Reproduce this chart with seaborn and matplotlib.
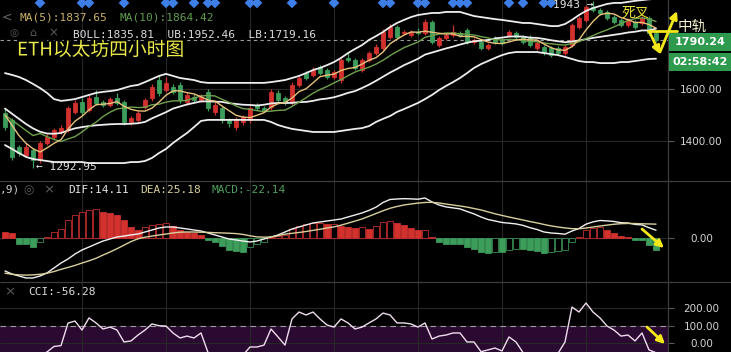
import numpy as np
import pandas as pd
import matplotlib
matplotlib.use("Agg")
import matplotlib.pyplot as plt
import matplotlib.patheffects as pe
from matplotlib.patches import Rectangle, FancyArrowPatch
from matplotlib.lines import Line2D
from matplotlib.transforms import blended_transform_factory
import seaborn as sns

# ---------------- data ----------------
OPEN = [1508,1481,1376,1344,1364,1325,1391,1414,1434,1442,1512,1551,1520,1570,1551,1539,1566,1551,1473,1481,
        1531,1566,1636,1597,1609,1617,1551,1570,1558,1590,1512,1527,1481,1453,1473,1481,1539,1527,1531,1586,
        1566,1551,1617,1663,1656,1687,1675,1648,1636,1722,1714,1675,1714,1741,1761,1803,1842,1819,1811,1823,
        1819,1862,1772,1800,1811,1819,1831,1784,1784,1761,1800,1792,1811,1819,1803,1803,1761,1765,1761,1761,
        1741,1772,1842,1870,1920,1908,1901,1881,1870,1850,1862,1858,1877,1819]
HIGH = [1525,1490,1385,1390,1372,1400,1425,1450,1462,1535,1560,1565,1578,1597,1560,1572,1586,1558,1498,1516,
        1566,1620,1656,1648,1620,1628,1590,1580,1582,1600,1550,1536,1490,1492,1500,1536,1548,1534,1600,1596,
        1574,1628,1652,1672,1686,1695,1684,1676,1722,1745,1722,1720,1750,1775,1834,1855,1850,1830,1832,1838,
        1872,1870,1808,1818,1850,1826,1838,1800,1790,1780,1808,1800,1832,1828,1810,1810,1788,1772,1768,1768,
        1772,1858,1885,1928,1943,1915,1908,1888,1877,1878,1870,1885,1884,1826]
LOW = [1440,1325,1340,1335,1293,1315,1382,1405,1425,1432,1503,1500,1510,1538,1530,1530,1538,1462,1460,1472,
       1522,1555,1575,1588,1580,1548,1540,1548,1550,1515,1500,1470,1455,1440,1462,1470,1518,1510,1520,1548,
       1538,1540,1608,1635,1648,1655,1640,1640,1625,1706,1675,1666,1705,1733,1752,1795,1795,1812,1805,1812,
       1810,1775,1765,1792,1804,1804,1776,1776,1754,1752,1776,1772,1804,1795,1776,1764,1754,1733,1725,1733,
       1733,1764,1835,1862,1900,1890,1870,1855,1843,1843,1835,1850,1812,1785]
CLOSE = [1453,1337,1352,1376,1325,1391,1414,1442,1449,1527,1547,1512,1566,1547,1539,1562,1547,1473,1488,1508,
         1558,1609,1586,1625,1590,1558,1578,1558,1570,1527,1539,1481,1469,1481,1492,1527,1527,1520,1590,1558,
         1547,1617,1644,1644,1675,1663,1648,1667,1714,1714,1683,1714,1741,1765,1823,1842,1803,1823,1823,1819,
         1862,1784,1800,1811,1823,1811,1784,1792,1761,1772,1784,1780,1823,1803,1784,1772,1780,1741,1733,1741,
         1765,1850,1877,1920,1908,1897,1877,1862,1850,1870,1842,1877,1819,1792]
MA5 = [1500,1460,1420,1390,1369,1356,1372,1390,1404,1445,1476,1495,1520,1540,1542,1545,1552,1534,1522,1516,
       1515,1527,1550,1577,1594,1594,1587,1582,1571,1558,1554,1535,1517,1499,1492,1490,1499,1509,1531,1544,
       1548,1566,1591,1602,1625,1649,1655,1659,1673,1681,1685,1698,1713,1723,1745,1777,1795,1811,1823,1822,
       1826,1822,1818,1815,1816,1806,1806,1804,1794,1784,1779,1778,1784,1792,1795,1792,1792,1776,1762,1753,
       1752,1766,1793,1831,1864,1890,1896,1893,1879,1871,1860,1860,1852,1838]
MA10 = [1500,1480,1460,1440,1420,1428,1416,1405,1397,1407,1416,1434,1455,1472,1494,1511,1524,1527,1531,1529,
        1530,1540,1542,1550,1555,1555,1557,1566,1574,1576,1574,1561,1550,1535,1525,1522,1517,1513,1515,1518,
        1519,1533,1550,1567,1585,1599,1611,1625,1638,1653,1667,1677,1686,1698,1713,1731,1747,1762,1773,1784,
        1802,1809,1815,1819,1819,1816,1814,1811,1805,1800,1793,1792,1794,1793,1790,1786,1785,1780,1777,1774,
        1772,1779,1785,1797,1809,1821,1831,1843,1855,1868,1875,1878,1873,1864]
BOLL_MID = [1525,1505,1485,1465,1448,1435,1428,1427,1430,1440,1448,1453,1457,1460,1462,1464,1465,1465,1466,1468,
            1473,1487,1499,1511,1525,1533,1541,1547,1553,1553,1552,1551,1546,1543,1540,1539,1537,1540,1545,1547,
            1547,1547,1550,1551,1555,1561,1564,1569,1577,1586,1593,1605,1618,1633,1649,1665,1679,1694,1706,1719,
            1735,1743,1751,1759,1766,1774,1781,1787,1789,1792,1798,1801,1805,1806,1805,1801,1800,1796,1791,1787,
            1783,1786,1790,1795,1800,1804,1808,1812,1816,1821,1824,1829,1829,1836]
BOLL_UB = [1663,1656,1648,1636,1621,1605,1586,1562,1555,1558,1562,1570,1578,1586,1590,1593,1597,1605,1613,1617,
           1628,1640,1652,1660,1652,1644,1640,1636,1628,1625,1625,1625,1625,1625,1625,1625,1625,1625,1628,1632,
           1636,1644,1652,1663,1675,1683,1694,1706,1722,1741,1757,1772,1792,1807,1823,1842,1858,1870,1881,1889,
           1893,1897,1897,1901,1901,1901,1893,1885,1881,1877,1873,1870,1866,1862,1858,1858,1854,1850,1846,1846,
           1854,1870,1889,1905,1916,1924,1932,1936,1936,1940,1944,1947,1950,1952]
BOLL_LB = [1383,1368,1352,1337,1329,1325,1321,1317,1317,1317,1317,1317,1313,1313,1313,1313,1313,1313,1317,1317,
           1321,1333,1352,1368,1391,1411,1430,1453,1477,1481,1481,1481,1481,1481,1481,1481,1481,1481,1473,1461,
           1453,1446,1442,1438,1434,1434,1434,1434,1438,1442,1446,1449,1457,1473,1485,1496,1512,1523,1535,1547,
           1562,1578,1597,1613,1628,1644,1663,1683,1698,1710,1722,1733,1741,1745,1745,1745,1745,1741,1737,1733,
           1726,1718,1710,1706,1706,1702,1702,1702,1706,1706,1710,1714,1718,1719]
DIF = [-60.0,-65.5,-69.1,-72.7,-72.7,-69.1,-63.6,-54.5,-45.5,-38.2,-29.1,-21.8,-16.4,-10.9,-5.5,-1.8,1.8,3.6,5.5,7.3,
       10.9,14.5,18.2,20.0,20.0,18.2,16.4,14.5,12.7,9.1,5.5,1.8,-1.8,-3.6,-5.5,-7.3,-5.5,-1.8,1.8,5.5,
       10.9,16.4,20.0,23.6,27.3,29.1,30.9,32.7,34.5,38.2,41.8,45.5,50.2,56.0,64.5,70.0,70.9,71.5,71.1,70.5,
       72.7,65.5,60.0,56.5,54.7,52.9,48.2,43.8,38.2,33.6,30.9,28.2,26.9,25.6,22.9,18.7,15.5,10.9,9.1,8.2,
       6.9,12.7,17.3,25.1,29.3,31.8,31.1,30.0,27.8,27.3,24.7,23.8,18.7,14.11]
DEA = [-64,-66,-67,-67.5,-67,-66,-64,-61,-57,-53.5,-49.8,-45.5,-41.5,-36.9,-31,-25.5,-19.5,-13,-6.5,-1.5,
       1.5,3.5,5.5,7.2,9.2,10.5,11.0,10.8,10.5,10.2,9.6,9.2,8.7,8.0,6.5,4.0,2.0,1.5,1.8,4.0,
       7.0,8.5,10.0,11.8,13.9,15.8,18.2,20.2,23.3,27.0,30.7,34.6,39.5,44.5,49.5,54.0,57.3,60.0,61.8,63.4,
       64.6,64.8,63.7,61.7,59.9,58.1,56.2,53.6,51.0,47.5,44.0,41.0,38.1,35.4,32.7,29.9,27.4,24.6,22.0,20.0,
       18.3,17.0,16.8,18.1,20.0,21.8,23.4,25.0,26.0,26.4,26.3,25.8,25.5,25.18]
MACD_HIST = [10.9,9.1,-10.4,-10.4,-16.4,-7.3,1.8,10.9,16.9,32.2,41.3,47.3,51.5,51.9,47.3,46.0,41.3,32.2,20.0,15.1,
             20.0,23.1,26.0,26.6,21.3,14.0,10.9,9.1,4.9,-4.2,-7.3,-15.1,-21.3,-23.7,-25.5,-16.4,-10.4,-7.3,1.8,3.1,
             4.9,16.9,21.3,24.9,27.3,27.7,24.9,26.0,21.3,20.0,18.7,20.0,16.9,21.3,29.1,30.9,27.3,23.1,18.7,14.0,
             14.4,1.8,-7.3,-10.4,-10.4,-10.4,-16.4,-19.5,-25.5,-27.3,-25.5,-25.5,-22.4,-19.5,-19.5,-22.4,-23.7,-27.3,-25.5,-23.7,
             -22.4,-7.3,1.8,14.0,18.7,20.0,15.1,9.1,3.1,1.8,-3.1,-3.1,-13.3,-22.14]
CCI = [-80,-120,-140,-110,-90,-70,-52,-20,-15,115,127,75,145,116,81,92,75,6,12,46,
       75,110,100,98,58,29,40,29,58,-55,-70,-90,-100,-80,-70,-23,-23,-12,81,35,
       -12,139,179,162,179,139,104,92,139,116,81,92,116,139,173,162,116,116,110,92,
       116,23,40,46,58,58,6,6,-50,-40,-29,-46,35,6,-55,-90,-120,-130,-110,-60,
       6,208,179,231,179,145,98,75,40,46,12,58,-40,-56.28]
SIGNAL_CANDLES = [5, 11, 12, 17, 23, 24, 27, 29, 30, 35, 36, 41, 47, 54, 55, 59, 60, 64, 65, 66, 72, 74, 77, 78]
GRID_CANDLES = [11, 23, 35, 47, 59, 71, 83]
PRICE_TICKS = [1400, 1600]
MACD_TICKS = [0]
CCI_TICKS = [0, 100, 200]
LAST_PRICE = 1790.24
COUNTDOWN = "02:58:42"
LOWEST_LABEL = "1292.95"
HIGHEST_LABEL = "1943"
MA_LABELS = {"MA(5)": 1837.65, "MA(10)": 1864.42}
BOLL_LABELS = {"BOLL": 1835.81, "UB": 1952.46, "LB": 1719.16}

# ---------------- style ----------------
sns.set_theme(style="dark", rc={"axes.facecolor": "black", "figure.facecolor": "black"})
plt.rcParams["font.family"] = ["DejaVu Sans", "Noto Sans CJK SC"]
MONO = ["DejaVu Sans Mono", "Noto Sans CJK SC"]
CJK = ["Noto Sans CJK SC", "DejaVu Sans"]

RED = "#d2312e"
GREEN = "#3d9d5b"
WHITE_LINE = "#ededed"
GRID = "#272727"
SEP = "#3c3c3c"
YEL = "#f4e81a"

W, H = 731, 352
PLOT_RIGHT = 668
MAIN_BOTTOM = 181
MACD_BOTTOM = 282
X0, X1 = -5 / 7, 663 / 7

fig = plt.figure(figsize=(W / 100, H / 100), dpi=100)
fig.patch.set_facecolor("black")


def fx(px):
    return px / W


def fy(py):
    return 1 - py / H


ax_main = fig.add_axes([0, fy(MAIN_BOTTOM), fx(PLOT_RIGHT), MAIN_BOTTOM / H])
ax_macd = fig.add_axes([0, fy(MACD_BOTTOM), fx(PLOT_RIGHT), (MACD_BOTTOM - MAIN_BOTTOM) / H])
ax_cci = fig.add_axes([0, 0, fx(PLOT_RIGHT), (H - MACD_BOTTOM) / H])

idx = np.arange(len(CLOSE))
df = pd.DataFrame({"i": idx, "open": OPEN, "high": HIGH, "low": LOW, "close": CLOSE,
                   "ma5": MA5, "ma10": MA10, "mid": BOLL_MID, "ub": BOLL_UB, "lb": BOLL_LB,
                   "dif": DIF, "dea": DEA, "hist": MACD_HIST, "cci": CCI})

# ---------------- main price panel ----------------
ax = ax_main
o = df["open"].to_numpy(float)
c = df["close"].to_numpy(float)
up = c >= o
col = np.where(up, RED, GREEN)
ax.vlines(idx, df["low"], df["high"], colors=col, linewidth=0.9, zorder=2)
body_lo = np.minimum(o, c)
body_h = np.maximum(np.abs(c - o), 2.5)
ax.bar(idx, body_h, bottom=body_lo, width=0.68, color=col, edgecolor=col, linewidth=0.6, zorder=2.5)

for name, colr, lw in [("ub", WHITE_LINE, 1.3), ("mid", WHITE_LINE, 1.3), ("lb", WHITE_LINE, 1.3),
                       ("ma10", "#6fa24c", 1.0), ("ma5", "#e8c27c", 1.0)]:
    sns.lineplot(data=df, x="i", y=name, ax=ax, color=colr, linewidth=lw, zorder=3, legend=False)

ax.axhline(LAST_PRICE, color="#9c9c9c", linewidth=0.8, linestyle=(0, (3, 3)), zorder=1.5)
blend = blended_transform_factory(ax.transData, ax.transAxes)
ax.scatter(SIGNAL_CANDLES, [0.984] * len(SIGNAL_CANDLES), transform=blend, marker="D",
           s=30, color="#3d7fe6", edgecolor="none", zorder=4, clip_on=True)
ax.set_ylim(1243.3, 1947.4)

# ---------------- MACD panel ----------------
ax = ax_macd
hist = df["hist"].to_numpy(float)
prev = np.concatenate([[np.inf], hist[:-1]])
hollow = hist > prev
hcol = np.where(hist >= 0, RED, GREEN)
face = np.where(hollow, "black", hcol)
ax.bar(idx, hist, width=0.72, color=face, edgecolor=hcol, linewidth=0.55, zorder=2)
sns.lineplot(data=df, x="i", y="dif", ax=ax, color="#f0f0f0", linewidth=1.0, zorder=3, legend=False)
sns.lineplot(data=df, x="i", y="dea", ax=ax, color="#d9cf9c", linewidth=1.0, zorder=3, legend=False)
ax.set_ylim(-80, 103.6)

# ---------------- CCI panel ----------------
ax = ax_cci
ax.axhspan(-100, 100, color="#2b0a31", zorder=0.5, linewidth=0)
ax.axhline(100, color="#a898ae", linewidth=0.8, linestyle=(0, (5, 4)), zorder=1)
ax.axhline(200, color=GRID, linewidth=0.8, zorder=0.8)
sns.lineplot(data=df, x="i", y="cci", ax=ax, color="#eedcee", linewidth=1.0, zorder=3, legend=False)
ax.set_ylim(-52, 352.6)


def style_axis(ax, yticks, ygrid):
    ax.set_facecolor("black")
    for s in ax.spines.values():
        s.set_visible(False)
    ax.set_xlim(X0, X1)
    ax.set_xlabel("")
    ax.set_ylabel("")
    ax.set_xticks(GRID_CANDLES)
    ax.set_yticks(yticks)
    ax.set_yticklabels([f"{v:.2f}" for v in yticks])
    ax.tick_params(axis="x", bottom=False, labelbottom=False)
    ax.tick_params(axis="y", left=False, labelleft=False, right=True, labelright=True,
                   length=4, width=0.8, color="#5a5a5a", labelcolor="#d4d4d4",
                   labelsize=7.5, pad=20.2)
    plt.setp(ax.get_yticklabels(), ha="center")
    ax.grid(True, axis="x", color=GRID, linewidth=0.8)
    ax.grid(ygrid, axis="y", color=GRID, linewidth=0.8)
    ax.set_axisbelow(True)


style_axis(ax_main, PRICE_TICKS, True)
style_axis(ax_macd, MACD_TICKS, False)
style_axis(ax_cci, CCI_TICKS, False)

# ---------------- frame lines ----------------
for py in (MAIN_BOTTOM, MACD_BOTTOM):
    fig.add_artist(Line2D([0, 1], [fy(py), fy(py)], transform=fig.transFigure, color=SEP, linewidth=0.9))
fig.add_artist(Line2D([fx(PLOT_RIGHT), fx(PLOT_RIGHT)], [0, 1], transform=fig.transFigure, color=SEP, linewidth=0.9))

# ---------------- price boxes ----------------
BOX = "#2e9a4e"
for top, txt in ((33, f"{LAST_PRICE:.2f}"), (53, COUNTDOWN)):
    fig.add_artist(Rectangle((fx(PLOT_RIGHT + 1), fy(top + 18)), fx(W) - fx(PLOT_RIGHT + 1), 18 / H,
                             transform=fig.transFigure, facecolor=BOX, edgecolor="none", zorder=5))
    fig.text(fx(700), fy(top + 9), txt, color="white", fontsize=8, fontweight="bold",
             ha="center", va="center", zorder=6)


# ---------------- texts ----------------
def ftext(px, py, s, **kw):
    kw.setdefault("va", "center")
    kw.setdefault("ha", "left")
    return fig.text(fx(px), fy(py), s, **kw)


ftext(2, 17, "<", color="#6a6a6a", fontsize=9)
ftext(20, 17, f"MA(5):{MA_LABELS['MA(5)']:.2f}", color="#c9b06a", fontsize=8, family=MONO)
ftext(120, 17, f"MA(10):{MA_LABELS['MA(10)']:.2f}", color="#5f9e4e", fontsize=8, family=MONO)
ftext(9, 33, "◎", color="#5c5c5c", fontsize=7.5)
ftext(29, 33, "⌂", color="#5c5c5c", fontsize=8)
ftext(48, 33, "×", color="#5c5c5c", fontsize=8.5)
ftext(73, 35, "  ".join(f"{k}:{v:.2f}" for k, v in BOLL_LABELS.items()),
      color="#dcdcdc", fontsize=8, family=MONO)
t = ftext(17, 50, "ETH以太坊四小时图", color="#eceb48", fontsize=13.5, family=CJK)
t.set_path_effects([pe.withStroke(linewidth=2.5, foreground="black")])
ftext(36, 167, f"← {LOWEST_LABEL}", color="#e2e2e2", fontsize=8, family=MONO)
ftext(553, 5, f"{HIGHEST_LABEL} →", color="#e2e2e2", fontsize=8, family=MONO)
ftext(622, 13, "死叉", color="#ede23a", fontsize=10, family=CJK)
ftext(678, 27, "中轨", color="#f3f0cf", fontsize=10.5, family=CJK)

ftext(0, 190, ",9)", color="#cfcfcf", fontsize=8, family=MONO)
ftext(23, 190, "◎", color="#5c5c5c", fontsize=8.5)
ftext(43, 190, "×", color="#5c5c5c", fontsize=9.5)
ftext(68, 190, f"DIF:{DIF[-1]:.2f}", color="#e6e6e6", fontsize=8, family=MONO)
ftext(140, 190, f"DEA:{DEA[-1]:.2f}", color="#d9cf9a", fontsize=8, family=MONO)
ftext(212, 190, f"MACD:{MACD_HIST[-1]:.2f}", color="#4f9f5f", fontsize=8, family=MONO)

ftext(4, 292, "×", color="#5c5c5c", fontsize=9.5)
ftext(28, 292, f"CCI:{CCI[-1]:.2f}", color="#dcdcdc", fontsize=8, family=MONO)


# ---------------- yellow hand annotations ----------------
def fig_line(p0, p1, lw=2.0):
    fig.add_artist(Line2D([fx(p0[0]), fx(p1[0])], [fy(p0[1]), fy(p1[1])], transform=fig.transFigure,
                          color=YEL, linewidth=lw, zorder=7, solid_capstyle="round"))


def fig_arrow(p0, p1, lw=2.0, ms=11):
    fig.add_artist(FancyArrowPatch(posA=(fx(p0[0]), fy(p0[1])), posB=(fx(p1[0]), fy(p1[1])),
                                   transform=fig.transFigure, arrowstyle="-|>", mutation_scale=ms,
                                   color=YEL, linewidth=lw, zorder=7, shrinkA=0, shrinkB=0))


fig_line((648, 31), (677, 31))
fig_arrow((650, 33), (660, 54))
fig_arrow((660, 52), (677, 11))
fig_arrow((642, 229), (664, 248))
fig_arrow((647, 327), (665, 344))

fig.savefig("out.png", dpi=100, facecolor="black")
